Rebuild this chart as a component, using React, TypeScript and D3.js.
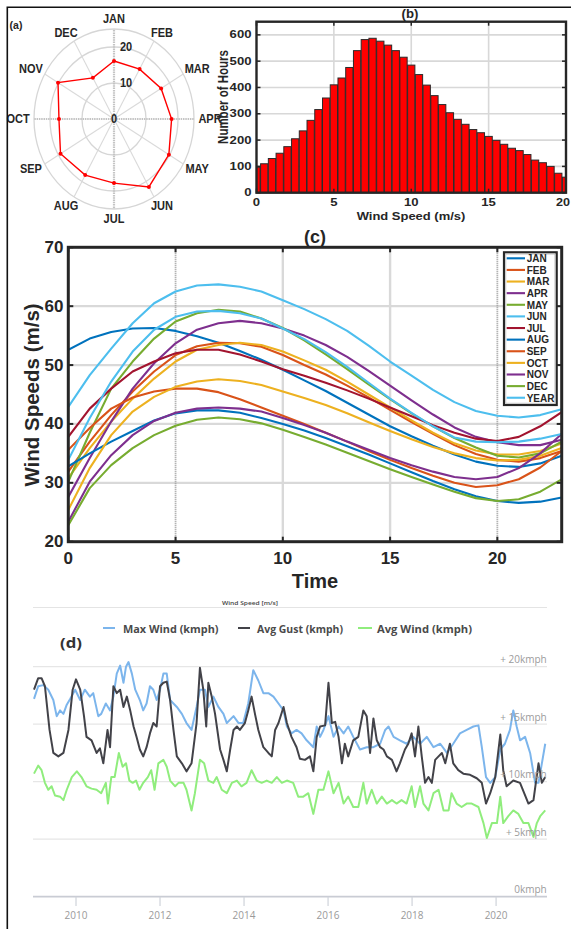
import React from 'react';
import * as d3 from 'd3';

// ---------- (a) polar ----------
const months = ['JAN', 'FEB', 'MAR', 'APR', 'MAY', 'JUN', 'JUL', 'AUG', 'SEP', 'OCT', 'NOV', 'DEC'];
const polarValues = [16.1, 16.0, 17.0, 18.0, 19.8, 21.8, 17.8, 18.0, 19.3, 17.2, 20.2, 13.2];
const polarRings = [10, 20, 25];
const polarTickLabels = [10, 20];
const polarMax = 25;

// ---------- (b) histogram ----------
const histBins = [0, 0.5, 1, 1.5, 2, 2.5, 3, 3.5, 4, 4.5, 5, 5.5, 6, 6.5, 7, 7.5, 8, 8.5, 9, 9.5, 10,
  10.5, 11, 11.5, 12, 12.5, 13, 13.5, 14, 14.5, 15, 15.5, 16, 16.5, 17, 17.5, 18, 18.5, 19, 19.5, 20];
const histCounts = [97, 110, 130, 150, 175, 205, 235, 275, 316, 360, 410, 436, 476, 540, 582, 587, 576, 561, 540, 515, 485,
  449, 409, 369, 335, 304, 279, 260, 240, 228, 214, 199, 184, 169, 160, 145, 124, 114, 100, 74, 59];
const histXTicks = [0, 5, 10, 15, 20];
const histYTicks = [0, 100, 200, 300, 400, 500, 600];

// ---------- (c) daily profiles ----------
const hours = [0, 1, 2, 3, 4, 5, 6, 7, 8, 9, 10, 11, 12, 13, 14, 15, 16, 17, 18, 19, 20, 21, 22, 23];
const janSpeeds = [52.6, 54.5, 55.6, 56.2, 56.3, 55.8, 54.9, 53.8, 52.4, 50.9, 49.2, 47.4, 45.6, 43.6, 41.6, 39.6, 37.9, 36.3, 34.8, 33.6, 32.9, 32.7, 33.3, 34.6];
const febSpeeds = [31.9, 37.0, 41.5, 45.5, 48.9, 51.7, 53.2, 53.8, 53.7, 53.1, 51.7, 50.0, 48.4, 46.5, 44.5, 42.4, 40.3, 38.3, 36.4, 34.9, 33.9, 33.6, 34.2, 35.4];
const marSpeeds = [30.8, 35.9, 40.4, 44.3, 47.7, 50.6, 52.6, 53.4, 53.8, 53.4, 52.3, 50.8, 49.2, 47.2, 45.0, 42.8, 40.6, 38.5, 36.7, 35.5, 34.8, 34.8, 35.4, 36.7];
const aprSpeeds = [27.6, 34.2, 40.4, 46.0, 50.3, 53.7, 56.0, 57.1, 57.5, 57.1, 56.2, 55.0, 53.4, 51.4, 49.0, 46.5, 44.0, 41.6, 39.4, 37.8, 36.9, 36.4, 36.4, 37.3];
const maySpeeds = [30.2, 38.5, 46.0, 50.6, 54.5, 57.4, 58.8, 59.4, 59.1, 57.9, 56.3, 54.2, 51.8, 49.3, 46.7, 44.2, 41.8, 39.6, 37.6, 36.0, 34.6, 34.3, 35.0, 37.0];
const junSpeeds = [42.9, 48.3, 52.8, 57.1, 60.5, 62.5, 63.5, 63.7, 63.3, 62.5, 61.0, 59.5, 57.8, 55.8, 53.3, 50.6, 48.2, 45.8, 43.7, 42.2, 41.4, 41.1, 41.5, 42.5];
const julSpeeds = [37.8, 42.6, 46.0, 48.9, 50.6, 52.0, 52.6, 52.6, 51.8, 50.6, 49.3, 48.2, 47.0, 45.7, 44.3, 42.8, 41.3, 39.8, 38.5, 37.5, 37.1, 37.8, 39.6, 42.0];
const augSpeeds = [32.8, 35.0, 37.0, 38.8, 40.6, 41.8, 42.3, 42.3, 41.9, 41.0, 40.0, 38.9, 37.6, 36.2, 34.8, 33.3, 31.8, 30.3, 28.9, 27.7, 26.9, 26.6, 26.8, 27.5];
const sepSpeeds = [35.6, 39.3, 42.6, 44.5, 45.5, 46.0, 46.0, 45.4, 44.2, 42.8, 41.4, 40.0, 38.5, 37.0, 35.4, 33.9, 32.5, 31.2, 30.0, 29.3, 29.6, 30.6, 32.6, 35.4];
const octSpeeds = [25.4, 32.5, 38.1, 42.1, 44.6, 46.3, 47.2, 47.6, 47.3, 46.6, 45.5, 44.4, 43.2, 41.8, 40.3, 38.8, 37.4, 36.1, 35.0, 34.2, 33.8, 33.9, 34.6, 35.9];
const novSpeeds = [23.4, 30.2, 34.7, 38.1, 40.5, 41.9, 42.6, 42.8, 42.6, 42.1, 41.0, 39.8, 38.5, 37.0, 35.6, 34.2, 33.0, 31.9, 31.0, 30.6, 31.0, 32.5, 35.0, 38.3];
const decSpeeds = [22.8, 29.1, 33.0, 35.9, 38.1, 39.7, 40.7, 41.1, 40.8, 40.1, 39.0, 37.8, 36.5, 35.1, 33.7, 32.3, 31.0, 29.7, 28.5, 27.4, 26.9, 27.2, 28.5, 30.6];
const yearSpeeds = [33.9, 41.0, 47.2, 52.3, 56.0, 58.2, 59.1, 59.2, 58.8, 57.9, 56.2, 54.4, 52.2, 49.7, 47.0, 44.3, 41.9, 39.6, 37.7, 37.0, 36.9, 37.0, 37.5, 38.3];
const profileNames = ['JAN', 'FEB', 'MAR', 'APR', 'MAY', 'JUN', 'JUL', 'AUG', 'SEP', 'OCT', 'NOV', 'DEC', 'YEAR'];
const profileSeries = [janSpeeds, febSpeeds, marSpeeds, aprSpeeds, maySpeeds, junSpeeds, julSpeeds, augSpeeds, sepSpeeds, octSpeeds, novSpeeds, decSpeeds, yearSpeeds];
const profileColors = ['#0072BD', '#D95319', '#EDB120', '#7E2F8E', '#77AC30', '#4DBEEE', '#A2142F',
  '#0072BD', '#D95319', '#EDB120', '#7E2F8E', '#77AC30', '#4DBEEE'];
const cXTicks = [0, 5, 10, 15, 20];
const cYTicks = [20, 30, 40, 50, 60, 70];

// ---------- (d) long-term series [year, kmph] ----------
const gustData: [number, number][] = [
  [2009.00, 18.0], [2009.10, 19.0], [2009.18, 19.0], [2009.26, 18.3], [2009.37, 14.5], [2009.46, 12.5], [2009.58, 12.2],
  [2009.70, 12.5], [2009.82, 14.5], [2009.92, 18.0], [2010.00, 18.9], [2010.10, 18.0], [2010.19, 15.7], [2010.25, 13.9],
  [2010.37, 13.6], [2010.49, 12.5], [2010.57, 12.9], [2010.65, 11.6], [2010.75, 14.5], [2010.81, 13.0], [2010.89, 18.3],
  [2010.97, 17.7], [2011.05, 18.0], [2011.13, 16.5], [2011.21, 17.4], [2011.29, 16.2], [2011.37, 14.8], [2011.44, 13.9],
  [2011.52, 12.8], [2011.60, 12.2], [2011.68, 13.0], [2011.76, 14.2], [2011.84, 15.1], [2011.92, 14.8], [2012.00, 18.3],
  [2012.08, 18.6], [2012.16, 18.7], [2012.24, 17.1], [2012.32, 14.5], [2012.40, 12.2], [2012.52, 11.6], [2012.63, 10.9],
  [2012.75, 11.6], [2012.87, 15.1], [2012.95, 19.9], [2013.03, 18.0], [2013.10, 14.8], [2013.15, 18.6], [2013.23, 17.4],
  [2013.31, 15.9], [2013.43, 12.8], [2013.51, 11.9], [2013.59, 10.9], [2013.67, 12.8], [2013.75, 14.5], [2013.83, 14.8],
  [2013.90, 14.5], [2014.02, 15.1], [2014.10, 16.2], [2014.18, 17.4], [2014.26, 15.9], [2014.34, 14.5], [2014.46, 13.0],
  [2014.58, 12.5], [2014.66, 12.2], [2014.74, 14.5], [2014.82, 15.1], [2014.94, 16.5], [2015.02, 15.1], [2015.13, 13.9],
  [2015.25, 13.0], [2015.33, 12.0], [2015.45, 11.9], [2015.57, 12.2], [2015.65, 10.9], [2015.73, 13.9], [2015.81, 14.8],
  [2015.93, 14.9], [2016.01, 18.6], [2016.09, 15.1], [2016.17, 15.2], [2016.25, 13.9], [2016.33, 11.6], [2016.40, 13.3],
  [2016.48, 12.2], [2016.60, 13.6], [2016.72, 13.9], [2016.84, 16.2], [2016.92, 15.7], [2017.00, 12.5], [2017.08, 15.5],
  [2017.16, 13.6], [2017.24, 13.0], [2017.32, 12.8], [2017.40, 12.2], [2017.52, 11.9], [2017.63, 10.9], [2017.71, 11.6],
  [2017.83, 12.8], [2017.91, 13.3], [2017.99, 14.2], [2018.07, 12.2], [2018.15, 14.8], [2018.23, 12.2], [2018.31, 9.9],
  [2018.39, 10.4], [2018.47, 9.9], [2018.55, 11.9], [2018.63, 12.2], [2018.71, 12.5], [2018.79, 11.6], [2018.90, 13.3],
  [2018.98, 11.6], [2019.10, 11.0], [2019.22, 10.7], [2019.38, 10.6], [2019.54, 10.3], [2019.66, 9.9], [2019.76, 8.1],
  [2019.86, 9.0], [2019.98, 10.4], [2020.10, 14.1], [2020.17, 11.0], [2020.25, 9.6], [2020.41, 10.1], [2020.57, 9.9],
  [2020.77, 8.1], [2020.89, 8.4], [2021.01, 11.6], [2021.09, 9.9], [2021.17, 10.4],
];
const maxWindData: [number, number][] = [
  [2009.00, 17.2], [2009.10, 18.3], [2009.22, 18.4], [2009.34, 18.0], [2009.46, 17.1], [2009.54, 15.7], [2009.62, 16.2],
  [2009.70, 15.9], [2009.78, 16.7], [2009.86, 17.2], [2009.98, 18.0], [2010.10, 17.1], [2010.21, 18.0], [2010.33, 17.4],
  [2010.41, 17.7], [2010.53, 15.7], [2010.60, 15.9], [2010.71, 16.8], [2010.81, 16.2], [2010.89, 17.4], [2010.97, 19.4],
  [2011.05, 20.1], [2011.13, 18.6], [2011.19, 20.0], [2011.25, 20.4], [2011.33, 19.4], [2011.41, 18.0], [2011.52, 17.1],
  [2011.60, 16.2], [2011.68, 16.8], [2011.76, 18.3], [2011.84, 18.0], [2011.92, 17.1], [2012.00, 18.0], [2012.08, 19.4],
  [2012.16, 19.4], [2012.24, 17.1], [2012.32, 16.8], [2012.40, 16.5], [2012.52, 15.9], [2012.63, 15.1], [2012.75, 14.5],
  [2012.87, 16.5], [2012.95, 18.0], [2013.07, 18.0], [2013.15, 16.5], [2013.27, 17.4], [2013.39, 16.5], [2013.51, 15.9],
  [2013.59, 15.1], [2013.75, 15.7], [2013.87, 15.1], [2013.98, 15.1], [2014.10, 16.8], [2014.22, 19.7], [2014.34, 18.8],
  [2014.46, 17.7], [2014.58, 17.7], [2014.70, 17.4], [2014.82, 16.8], [2014.94, 16.2], [2015.02, 14.8], [2015.13, 14.2],
  [2015.25, 14.5], [2015.37, 14.2], [2015.49, 13.6], [2015.65, 13.0], [2015.73, 14.8], [2015.81, 13.9], [2015.89, 14.5],
  [2016.01, 15.7], [2016.13, 13.9], [2016.25, 14.8], [2016.37, 14.2], [2016.48, 14.8], [2016.60, 13.9], [2016.76, 12.8],
  [2016.92, 13.0], [2017.08, 13.0], [2017.24, 13.3], [2017.36, 14.5], [2017.44, 14.8], [2017.56, 13.9], [2017.71, 13.6],
  [2017.87, 13.3], [2018.03, 13.9], [2018.19, 13.3], [2018.35, 13.9], [2018.51, 13.0], [2018.67, 13.3], [2018.83, 12.5],
  [2018.98, 13.3], [2019.14, 14.2], [2019.30, 14.5], [2019.46, 14.8], [2019.58, 14.9], [2019.66, 13.0], [2019.76, 10.4],
  [2019.86, 9.9], [2019.98, 10.4], [2020.10, 12.8], [2020.21, 13.3], [2020.33, 14.5], [2020.41, 16.2], [2020.49, 14.8],
  [2020.57, 13.6], [2020.69, 13.9], [2020.81, 12.5], [2020.93, 9.9], [2021.01, 9.9], [2021.09, 11.6], [2021.17, 13.3],
];
const avgWindData: [number, number][] = [
  [2009.00, 10.7], [2009.10, 11.4], [2009.18, 11.0], [2009.26, 9.9], [2009.34, 9.3], [2009.42, 9.6], [2009.50, 8.8],
  [2009.62, 8.7], [2009.70, 8.4], [2009.78, 9.3], [2009.90, 10.4], [2010.02, 10.9], [2010.13, 10.4], [2010.25, 9.6],
  [2010.37, 9.4], [2010.49, 9.3], [2010.60, 9.0], [2010.71, 9.9], [2010.76, 8.1], [2010.84, 10.4], [2010.92, 10.4],
  [2011.02, 12.5], [2011.11, 11.3], [2011.19, 11.6], [2011.27, 10.1], [2011.35, 9.9], [2011.43, 10.1], [2011.51, 9.3],
  [2011.60, 9.9], [2011.71, 10.4], [2011.79, 11.0], [2011.87, 9.3], [2011.96, 11.6], [2012.08, 11.9], [2012.16, 11.3],
  [2012.24, 10.1], [2012.36, 9.6], [2012.44, 9.9], [2012.56, 9.9], [2012.63, 9.3], [2012.75, 7.5], [2012.83, 9.0],
  [2012.95, 11.9], [2013.05, 11.6], [2013.15, 10.1], [2013.27, 9.9], [2013.35, 10.4], [2013.47, 9.3], [2013.59, 9.0],
  [2013.71, 9.9], [2013.83, 10.1], [2013.94, 9.6], [2014.06, 9.9], [2014.18, 11.0], [2014.30, 10.1], [2014.42, 9.9],
  [2014.54, 10.1], [2014.66, 9.9], [2014.78, 10.4], [2014.90, 9.9], [2015.02, 10.1], [2015.17, 9.9], [2015.29, 8.7],
  [2015.41, 8.7], [2015.53, 9.0], [2015.65, 7.2], [2015.77, 9.3], [2015.89, 9.3], [2016.01, 10.9], [2016.13, 9.0],
  [2016.25, 9.9], [2016.37, 8.1], [2016.48, 8.7], [2016.60, 7.8], [2016.72, 7.8], [2016.84, 9.9], [2016.92, 8.1],
  [2017.04, 9.3], [2017.16, 8.1], [2017.28, 8.7], [2017.40, 8.1], [2017.52, 8.4], [2017.63, 8.1], [2017.75, 8.4],
  [2017.87, 8.1], [2017.99, 9.6], [2018.07, 7.8], [2018.19, 9.6], [2018.27, 8.1], [2018.39, 7.5], [2018.51, 9.0],
  [2018.63, 9.3], [2018.75, 7.5], [2018.87, 7.5], [2018.94, 9.0], [2019.06, 8.1], [2019.18, 7.8], [2019.30, 8.1],
  [2019.42, 8.1], [2019.58, 7.8], [2019.70, 6.4], [2019.78, 5.1], [2019.90, 6.4], [2020.02, 6.4], [2020.10, 8.7],
  [2020.17, 6.4], [2020.29, 7.0], [2020.41, 7.5], [2020.53, 7.2], [2020.65, 6.4], [2020.77, 6.4], [2020.89, 5.2],
  [2020.97, 6.4], [2021.05, 7.0], [2021.17, 7.5],
];
const dYearTicks = [2010, 2012, 2014, 2016, 2018, 2020];
const dGridValues = [0, 5, 10, 15, 20];
const dGridLabels = ['0kmph', '+ 5kmph', '+ 10kmph', '+ 15kmph', '+ 20kmph'];
const dLegend = ['Max Wind (kmph)', 'Avg Gust (kmph)', 'Avg Wind (kmph)'];
const dColors = ['#7cb5ec', '#434348', '#90ed7d'];

const FONT = "'Liberation Sans', Arial, Helvetica, sans-serif";
const SANS = "'Open Sans', 'Noto Sans', sans-serif";
const DARK = '#262626';

function T(props: {
  x: number; y: number; size: number; children: React.ReactNode; anchor?: string; sx?: number; sy?: number;
  rotate?: number; weight?: string | number; fill?: string; family?: string; len?: number;
}) {
  const { x, y, size, children, anchor = 'middle', sx = 1, sy = 1, rotate = 0, weight = 'bold', fill = DARK, family = FONT, len } = props;
  return (
    <text
      transform={`translate(${x},${y}) rotate(${rotate}) scale(${sx},${sy})`}
      textAnchor={anchor as any}
      dominantBaseline="central"
      fontSize={size}
      fontWeight={weight as any}
      fill={fill}
      fontFamily={family}
      textLength={len}
      lengthAdjust={len ? 'spacingAndGlyphs' : undefined}
    >
      {children}
    </text>
  );
}

function PanelA() {
  const cx = 114, cy = 119, RX = 80, RY = 90;
  const r = d3.scaleLinear().domain([0, polarMax]).range([0, 1]);
  const ang = d3.scaleLinear().domain([0, 12]).range([0, 2 * Math.PI]);
  const px = (v: number, i: number) => cx + RX * r(v) * Math.sin(ang(i));
  const py = (v: number, i: number) => cy - RY * r(v) * Math.cos(ang(i));
  const pts = polarValues.map((v, i) => [px(v, i), py(v, i)] as [number, number]);
  const line = d3.line<[number, number]>().x(d => d[0]).y(d => d[1]);
  const closed = [...pts, pts[0]];
  return (
    <g>
      {polarRings.map(v => (
        <ellipse key={v} cx={cx} cy={cy} rx={RX * r(v)} ry={RY * r(v)} fill="none" stroke="#d6d6d6" strokeWidth={1.3} />
      ))}
      {months.map((m, i) => {
        const major = i % 3 === 0;
        return (
          <line key={m} x1={cx} y1={cy} x2={px(polarMax, i)} y2={py(polarMax, i)}
            stroke={major ? '#c4c4c4' : '#dadada'} strokeWidth={major ? 2.2 : 1.1}
            strokeDasharray={major ? '1.5 0.8' : undefined} />
        );
      })}
      <path d={line(closed) || ''} fill="none" stroke="#ff0000" strokeWidth={1.4} />
      {pts.map((p, i) => <circle key={i} cx={p[0]} cy={p[1]} r={2} fill="#ff0000" />)}
      {months.map((m, i) => (
        <T key={m} x={cx + 96 * Math.sin(ang(i))} y={cy - 100 * Math.cos(ang(i))} size={11} sy={1.1}>{m}</T>
      ))}
      {polarTickLabels.map(v => (
        <T key={v} x={120} y={py(v, 0)} size={11} anchor="start" sy={1.1}>{v}</T>
      ))}
      <T x={114} y={119} size={11} sy={1.1}>0</T>
      <T x={16} y={25} size={10.5}>(a)</T>
    </g>
  );
}

function PanelB() {
  const x0 = 256.5, x1 = 566, y0 = 192.7, y1 = 21.7;
  const x = d3.scaleLinear().domain([0, 20]).range([x0, x1]);
  const y = d3.scaleLinear().domain([0, 650]).range([y0, y1]);
  const half = 0.235;
  return (
    <g>
      <defs>
        <clipPath id="clipB"><rect x={x0} y={y1} width={x1 - x0} height={y0 - y1} /></clipPath>
      </defs>
      <rect x={x0} y={y1} width={x1 - x0} height={y0 - y1} fill="#fff" />
      {histXTicks.filter(t => t > 0 && t < 20).map(t => (
        <line key={'gx' + t} x1={x(t)} x2={x(t)} y1={y1} y2={y0} stroke="#d8d8d8" strokeWidth={1.6} />
      ))}
      {histYTicks.filter(t => t > 0).map(t => (
        <line key={'gy' + t} x1={x0} x2={x1} y1={y(t)} y2={y(t)} stroke="#d8d8d8" strokeWidth={1.6} />
      ))}
      <g clipPath="url(#clipB)">
        {histBins.map((b, i) => (
          <rect key={i} x={x(b - half)} y={y(histCounts[i])} width={x(b + half) - x(b - half)}
            height={y(0) - y(histCounts[i])} fill="#ff0000" stroke="#2a2a2a" strokeWidth={1} />
        ))}
      </g>
      <rect x={x0} y={y1} width={x1 - x0} height={y0 - y1} fill="none" stroke={DARK} strokeWidth={2.4} />
      {histXTicks.map(t => (
        <g key={'tx' + t}>
          <line x1={x(t)} x2={x(t)} y1={y0} y2={y0 - 4} stroke={DARK} strokeWidth={1.5} />
          <line x1={x(t)} x2={x(t)} y1={y1} y2={y1 + 4} stroke={DARK} strokeWidth={1.5} />
          {t === 20
            ? <T x={570} y={202} size={10.5} sx={1.2} anchor="end">{t}</T>
            : <T x={x(t)} y={202} size={10.5} sx={1.25}>{t}</T>}
        </g>
      ))}
      {histYTicks.map(t => (
        <g key={'ty' + t}>
          <line x1={x0} x2={x0 + 4} y1={y(t)} y2={y(t)} stroke={DARK} strokeWidth={1.5} />
          <line x1={x1} x2={x1 - 4} y1={y(t)} y2={y(t)} stroke={DARK} strokeWidth={1.5} />
          <T x={251.5} y={y(t)} size={10.5} sx={1.25} anchor="end">{t}</T>
        </g>
      ))}
      <T x={224} y={97} size={11.5} rotate={-90} sy={1.2}>Number of Hours</T>
      <T x={411} y={216} size={11} sx={1.18}>Wind Speed (m/s)</T>
      <T x={410} y={14} size={12} sx={1.1}>(b)</T>
    </g>
  );
}

function PanelC() {
  const x0 = 68.3, x1 = 561.7, y0 = 541.7, y1 = 247.3;
  const x = d3.scaleLinear().domain([0, 23]).range([x0, x1]);
  const y = d3.scaleLinear().domain([20, 70]).range([y0, y1]);
  const line = d3.line<number>().x((_, i) => x(hours[i])).y(d => y(d));
  const lx0 = 504, ly0 = 252.3, lw = 52.7, lh = 152.7;
  const rowH = 11.62;
  return (
    <g>
      <defs>
        <clipPath id="clipC"><rect x={x0} y={y1} width={x1 - x0} height={y0 - y1} /></clipPath>
      </defs>
      {cYTicks.filter(t => t > 20 && t < 70).map(t => (
        <line key={'gy' + t} x1={x0} x2={x1} y1={y(t)} y2={y(t)} stroke="#d9d9d9" strokeWidth={2.2} />
      ))}
      {cXTicks.filter(t => t > 0).map(t => {
        const dotted = t === 5 || t === 20;
        return (
          <line key={'gx' + t} x1={x(t)} x2={x(t)} y1={y1} y2={y0}
            stroke={dotted ? '#9a9a9a' : '#d9d9d9'} strokeWidth={dotted ? 1.8 : 2.4}
            strokeDasharray={dotted ? '1 1' : undefined} />
        );
      })}
      <g clipPath="url(#clipC)">
        {profileSeries.map((s, i) => (
          <path key={profileNames[i]} d={line(s) || ''} fill="none" stroke={profileColors[i]} strokeWidth={2.1}
            strokeLinejoin="round" />
        ))}
      </g>
      <rect x={x0} y={y1} width={x1 - x0} height={y0 - y1} fill="none" stroke={DARK} strokeWidth={3} />
      {cXTicks.map(t => (
        <g key={'tx' + t}>
          <line x1={x(t)} x2={x(t)} y1={y0} y2={y0 - 5} stroke={DARK} strokeWidth={2} />
          <line x1={x(t)} x2={x(t)} y1={y1} y2={y1 + 5} stroke={DARK} strokeWidth={2} />
          <T x={x(t)} y={558.5} size={17}>{t}</T>
        </g>
      ))}
      {cYTicks.map(t => (
        <g key={'ty' + t}>
          <line x1={x0} x2={x0 + 5} y1={y(t)} y2={y(t)} stroke={DARK} strokeWidth={2} />
          <line x1={x1} x2={x1 - 5} y1={y(t)} y2={y(t)} stroke={DARK} strokeWidth={2} />
          <T x={63.5} y={y(t)} size={17} anchor="end">{t}</T>
        </g>
      ))}
      <T x={31} y={395} size={20.5} rotate={-90}>Wind Speeds (m/s)</T>
      <T x={315} y={581} size={20}>Time</T>
      <T x={315} y={237} size={18}>(c)</T>
      <rect x={lx0} y={ly0} width={lw} height={lh} fill="#fff" stroke={DARK} strokeWidth={2.2} />
      <rect x={lx0 + 1.8} y={ly0 + 1.8} width={lw - 3.6} height={lh - 3.6} fill="none" stroke="#bdbdbd" strokeWidth={0.8} />
      {profileNames.map((n, i) => (
        <g key={n}>
          <line x1={506.7} x2={525} y1={258.3 + i * rowH} y2={258.3 + i * rowH} stroke={profileColors[i]} strokeWidth={2.1} />
          <T x={526.7} y={258.6 + i * rowH} size={10} anchor="start">{n}</T>
        </g>
      ))}
    </g>
  );
}

function PanelD() {
  const x0 = 34, x1 = 546.5;
  const x = d3.scaleLinear().domain([2009, 2021.2]).range([x0, x1]);
  const y = d3.scaleLinear().domain([0, 20]).range([896.7, 666.7]);
  const line = d3.line<[number, number]>().x(d => x(d[0])).y(d => y(d[1]));
  const series = [maxWindData, gustData, avgWindData];
  const legendDash = [[103, 115], [238, 250], [358, 372]];
  const legendText = [[123, 95.5], [257, 86], [377, 95]];
  return (
    <g>
      <defs>
        <filter id="blurD" x="-5%" y="-5%" width="110%" height="110%">
          <feGaussianBlur stdDeviation="0.55" />
        </filter>
      </defs>
      <line x1={33} x2={547} y1={607.5} y2={607.5} stroke="#e4e4e4" strokeWidth={1.2} />
      <T x={250} y={603} size={6} weight={600} fill="#444" family={SANS} len={56}>Wind Speed [m/s]</T>
      {dGridValues.map(v => (
        <line key={v} x1={33} x2={547} y1={y(v)} y2={y(v)} stroke={v === 0 ? '#c9ccd4' : '#e6e6e6'} strokeWidth={v === 0 ? 1.8 : 1.2} />
      ))}
      {dYearTicks.map(t => (
        <g key={t}>
          <line x1={x(t)} x2={x(t)} y1={896.7} y2={906} stroke="#cfd3da" strokeWidth={1.2} />
          <T x={x(t)} y={915} size={10} weight={400} fill="#9a9a9a" family={SANS}>{t}</T>
        </g>
      ))}
      <g filter="url(#blurD)">
        {series.map((s, i) => (
          <path key={i} d={line(s) || ''} fill="none" stroke={dColors[i]} strokeWidth={2} strokeLinejoin="round" />
        ))}
      </g>
      {dGridValues.map((v, i) => (
        <T key={'l' + v} x={546.7} y={y(v) - 7.5} size={10} weight={400} fill="#9b9b9b" family={SANS} anchor="end">{dGridLabels[i]}</T>
      ))}
      {dLegend.map((n, i) => (
        <g key={n}>
          <line x1={legendDash[i][0]} x2={legendDash[i][1]} y1={628} y2={628} stroke={dColors[i]} strokeWidth={2} />
          <T x={legendText[i][0]} y={628} size={11} weight={700} fill="#4a4a4a" family={SANS} anchor="start" len={legendText[i][1]}>{n}</T>
        </g>
      ))}
      <T x={71} y={642} size={14} weight={700} fill="#333" family={SANS} len={22}>(d)</T>
    </g>
  );
}

export default function App() {
  return (
    <svg width={571} height={929} viewBox="0 0 571 929"
      style={{ position: 'absolute', left: 0, top: 0, background: '#fff' }}>
      <rect x={0} y={0} width={571} height={929} fill="#fff" />
      <PanelA />
      <PanelB />
      <PanelC />
      <PanelD />
      <path d="M7.3,929 L7.3,7.3 L571,7.3" fill="none" stroke="#111" strokeWidth={1.6} />
    </svg>
  );
}
